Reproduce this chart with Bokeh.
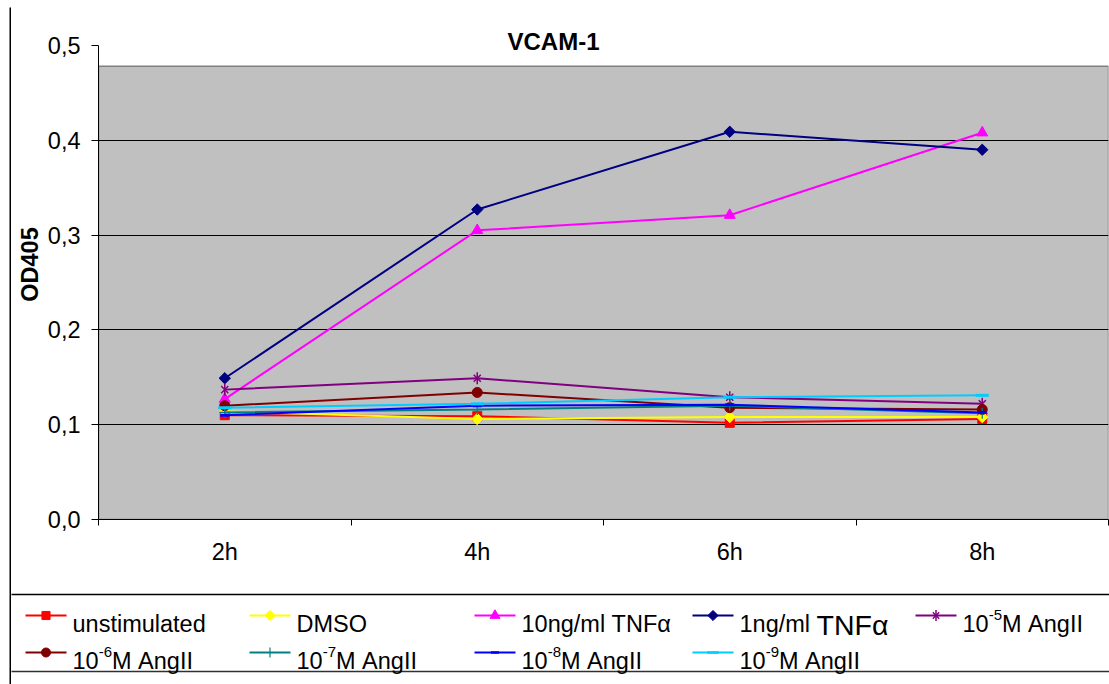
import numpy as np
from bokeh.plotting import figure
from bokeh.models import Range1d, FixedTicker, Label, CustomJSTickFormatter, Spacer
from bokeh.layouts import column, row
from bokeh.embed import file_html
from bokeh.resources import INLINE
from bokeh.core.properties import value

# ---------------- data ----------------
categories = ["2h", "4h", "6h", "8h"]
y_ticks = [0.0, 0.1, 0.2, 0.3, 0.4, 0.5]

unstimulated = [0.110, 0.109, 0.102, 0.106]
dmso = [0.114, 0.106, 0.108, 0.108]
tnf_10ng = [0.127, 0.305, 0.321, 0.408]
tnf_1ng = [0.149, 0.327, 0.409, 0.390]
angii_1e5 = [0.137, 0.149, 0.129, 0.122]
angii_1e6 = [0.120, 0.134, 0.118, 0.116]
angii_1e7 = [0.113, 0.116, 0.120, 0.112]
angii_1e8 = [0.110, 0.120, 0.121, 0.113]
angii_1e9 = [0.118, 0.122, 0.129, 0.131]

# legend labels as (text, kind) parts: n = normal, sup = superscript, big = larger, sp = space
label_unstim = [("unstimulated", "n")]
label_dmso = [("DMSO", "n")]
label_10ng = [("10ng/ml", "n"), (" ", "sp"), ("TNFα", "n")]
label_1ng = [("1ng/ml", "n"), (" ", "sp"), ("TNFα", "big")]
label_1e5 = [("10", "n"), ("-5", "sup"), ("M", "n"), (" ", "sp"), ("AngII", "n")]
label_1e6 = [("10", "n"), ("-6", "sup"), ("M", "n"), (" ", "sp"), ("AngII", "n")]
label_1e7 = [("10", "n"), ("-7", "sup"), ("M", "n"), (" ", "sp"), ("AngII", "n")]
label_1e8 = [("10", "n"), ("-8", "sup"), ("M", "n"), (" ", "sp"), ("AngII", "n")]
label_1e9 = [("10", "n"), ("-9", "sup"), ("M", "n"), (" ", "sp"), ("AngII", "n")]

series = [
    dict(vals=unstimulated, color="#FF0000", marker="square", size=9, angle=0.0, lw=1, label=label_unstim),
    dict(vals=dmso, color="#FFFF00", marker="square", size=8, angle=np.pi / 4, lw=1, label=label_dmso),
    dict(vals=tnf_10ng, color="#FF00FF", marker="triangle", size=11, angle=0.0, lw=1, label=label_10ng),
    dict(vals=tnf_1ng, color="#000080", marker="square", size=8, angle=np.pi / 4, lw=1, label=label_1ng),
    dict(vals=angii_1e5, color="#800080", marker="asterisk6", size=10, angle=0.0, lw=1.5, label=label_1e5),
    dict(vals=angii_1e6, color="#800000", marker="circle", size=10, angle=0.0, lw=1, label=label_1e6),
    dict(vals=angii_1e7, color="#008080", marker="cross", size=11, angle=0.0, lw=1.2, label=label_1e7),
    dict(vals=angii_1e8, color="#0000FF", marker="dash", size=9, angle=0.0, lw=3, label=label_1e8),
    dict(vals=angii_1e9, color="#00CCFF", marker="dash", size=13, angle=0.0, lw=3, label=label_1e9),
]

FONT = "Liberation Sans"
FS = 23.5          # general text size (axes, legend)
W, H = 1109, 684
BX, BY = 9, 7          # outer border position
BW = 2                 # outer border width
OX, OY = BX + BW, BY + BW   # origin of chart content
LEG_TOP = 590
F_LEFT, F_RIGHT, F_Y0, F_Y05 = 98, 1108, 519, 45
GRAY_TOP = 0.478  # Excel plot-area top (style)

main_w = W - OX
main_h = LEG_TOP - OY
px_per_x = (F_RIGHT - F_LEFT) / len(categories)
px_per_y = (F_Y0 - F_Y05) / 0.5

xpos = np.arange(len(categories)) + 0.5

p = figure(width=main_w, height=main_h,
           x_range=Range1d(0, len(categories)), y_range=Range1d(0, (F_Y0 - OY) / px_per_y),
           output_backend="svg", toolbar_location=None, title_location=None,
           min_border_left=F_LEFT - OX, min_border_right=W - F_RIGHT,
           min_border_top=0, min_border_bottom=main_h - (F_Y0 - OY))
p.frame_align = False
p.background_fill_color = "white"
p.border_fill_color = "white"
p.outline_line_color = None

# gray plot area
p.quad(left=0, right=len(categories), bottom=0, top=GRAY_TOP, fill_color="#C0C0C0",
       line_color="#808080", line_width=1.5, level="image")

# grid
p.xgrid.visible = False
p.ygrid.ticker = FixedTicker(ticks=[t for t in y_ticks if 0 < t < GRAY_TOP])
p.ygrid.grid_line_color = "black"
p.ygrid.grid_line_width = 1

# y axis
p.yaxis.ticker = FixedTicker(ticks=y_ticks)
p.yaxis.bounds = (y_ticks[0], y_ticks[-1])
p.yaxis.formatter = CustomJSTickFormatter(code="return tick.toFixed(1).replace('.', ',');")
p.yaxis.major_tick_out = 7
p.yaxis.major_tick_in = 0
p.yaxis.minor_tick_line_color = None
p.yaxis.axis_line_color = "black"
p.yaxis.major_tick_line_color = "black"
p.yaxis.major_label_text_font = FONT
p.yaxis.major_label_text_font_size = f"{FS}px"
p.yaxis.major_label_text_color = "black"
p.yaxis.major_label_standoff = 11
p.yaxis.axis_label = "OD405"
p.yaxis.axis_label_text_font = FONT
p.yaxis.axis_label_text_font_size = f"{FS}px"
p.yaxis.axis_label_text_font_style = "bold"
p.yaxis.axis_label_text_color = "black"
p.yaxis.axis_label_standoff = 2

# x axis: labels at category centers, ticks at category boundaries
p.xaxis.ticker = FixedTicker(ticks=list(xpos), minor_ticks=list(range(len(categories) + 1)))
p.xaxis.formatter = CustomJSTickFormatter(args=dict(labels=categories),
                                          code="return labels[Math.floor(tick)] || '';")
p.xaxis.major_tick_out = 0
p.xaxis.major_tick_in = 0
p.xaxis.minor_tick_out = 6
p.xaxis.minor_tick_in = 0
p.xaxis.minor_tick_line_color = "black"
p.xaxis.axis_line_color = "black"
p.xaxis.major_label_text_font = FONT
p.xaxis.major_label_text_font_size = f"{FS}px"
p.xaxis.major_label_text_color = "black"
p.xaxis.major_label_standoff = 13

# series
for s in series:
    p.line(xpos, s["vals"], line_color=s["color"], line_width=2)
    if s["marker"] == "asterisk6":
        p.scatter(xpos, s["vals"], marker="x", size=s["size"], line_color=s["color"], line_width=s["lw"])
        p.scatter(xpos, s["vals"], marker="dash", angle=np.pi / 2, size=s["size"] * 1.2,
                  line_color=s["color"], line_width=s["lw"])
    else:
        p.scatter(xpos, s["vals"], marker=s["marker"], size=s["size"], angle=s["angle"],
                  fill_color=s["color"], line_color=s["color"], line_width=s["lw"])

# title (inside the extended frame)
p.add_layout(Label(x=(553 - F_LEFT) / px_per_x, y=(F_Y0 - 41) / px_per_y, text="VCAM-1",
                   text_font=FONT, text_font_size="24px", text_font_style="bold",
                   text_align="center", text_baseline="middle", text_color="black"))

# ---------------- legend figure ----------------
leg_h = H - LEG_TOP
lg = figure(width=main_w, height=leg_h, x_range=Range1d(OX, W), y_range=Range1d(H, LEG_TOP),
            output_backend="svg", toolbar_location=None, title_location=None,
            x_axis_type=None, y_axis_type=None,
            min_border_left=0, min_border_right=0, min_border_top=0, min_border_bottom=0)
lg.frame_align = False
lg.outline_line_color = None
lg.background_fill_color = "white"
lg.border_fill_color = "white"
lg.grid.visible = False

lg.segment(x0=[OX - 5], y0=[594], x1=[W + 20], y1=[594], line_color="black", line_width=1.5)
lg.segment(x0=[OX - 5], y0=[671], x1=[W + 20], y1=[671], line_color="#303030", line_width=1.5)

CW = {'0': 556, '1': 556, '2': 556, '3': 556, '4': 556, '5': 556, '6': 556, '7': 556, '8': 556,
      '9': 556, '-': 333, 'M': 833, ' ': 278, 'A': 667, 'n': 556, 'g': 556, 'I': 278, '/': 278,
      'm': 833, 'l': 222, 'T': 611, 'N': 722, 'F': 611, 'α': 578}


def tw(s, fs):
    return sum(CW.get(c, 556) for c in s) / 1000.0 * fs


col_x = [25, 249, 474, 692, 915]
row_y = [615, 652]
FS_SUP = 15
FS_BIG = 28.5
for i, s in enumerate(series):
    r, c = divmod(i, 5)
    x0, y = col_x[c], row_y[r]
    lg.segment(x0=[x0], y0=[y], x1=[x0 + 41], y1=[y], line_color=s["color"], line_width=2)
    sz = s["size"] * 0.9
    mx = x0 + 20.5
    if s["marker"] == "asterisk6":
        lg.scatter([mx], [y], marker="x", size=sz, line_color=s["color"], line_width=s["lw"])
        lg.scatter([mx], [y], marker="dash", angle=np.pi / 2, size=sz * 1.2,
                   line_color=s["color"], line_width=s["lw"])
    else:
        lg.scatter([mx], [y], marker=s["marker"], size=sz, angle=s["angle"],
                   fill_color=s["color"], line_color=s["color"], line_width=min(s["lw"], 2.5))
    tx = x0 + 47
    base = y + 8
    for txt, kind in s["label"]:
        if kind == "sp":
            tx += tw(txt, FS)
            continue
        if kind == "sup":
            fs, by = FS_SUP, base - 8.5
        elif kind == "big":
            fs, by = FS_BIG, base + 1.5
        else:
            fs, by = FS, base
        lg.text([tx], [by], text=[txt], text_font=value(FONT), text_font_size=f"{fs}px",
                text_baseline="alphabetic", text_align="left", text_color="black")
        tx += tw(txt, fs)


# ---------------- outer border strips ----------------
def strip(w, h):
    f = figure(width=w, height=h, output_backend="svg", toolbar_location=None, title_location=None,
               x_axis_type=None, y_axis_type=None,
               min_border_left=0, min_border_right=0, min_border_top=0, min_border_bottom=0)
    f.frame_align = False
    f.outline_line_color = None
    f.background_fill_color = "black"
    f.border_fill_color = "black"
    f.grid.visible = False
    return f


left_strip = strip(BW, H - BY)
top_strip = strip(main_w, BW)

inner = column(top_strip, p, lg, spacing=0)
layout = column(Spacer(width=W, height=BY),
                row(Spacer(width=BX, height=H - BY), left_strip, inner, spacing=0),
                spacing=0)
open("out.html", "w").write(file_html(layout, INLINE))
